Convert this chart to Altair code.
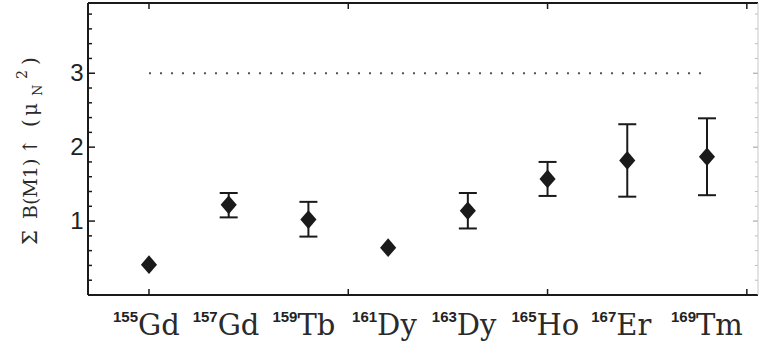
import altair as alt
import pandas as pd

# ---- data ----
mass = [155, 157, 159, 161, 163, 165, 167, 169]
element = ["Gd", "Gd", "Tb", "Dy", "Dy", "Ho", "Er", "Tm"]
b_m1 = [0.41, 1.22, 1.02, 0.64, 1.14, 1.57, 1.82, 1.87]
err_hi = [None, 1.38, 1.26, None, 1.38, 1.80, 2.31, 2.39]
err_lo = [None, 1.05, 0.79, None, 0.90, 1.34, 1.33, 1.35]

limit_value = [3.0]
limit_from = [155]
limit_to = [169]

y_label_values = [1, 2, 3]
y_minor = [0.2, 0.4, 0.6, 0.8, 1.2, 1.4, 1.6, 1.8, 2.2, 2.4, 2.6, 2.8,
           3.2, 3.4, 3.6, 3.8]
y_major = [1, 2, 3]
x_major = [155, 160, 165, 170]

# y-axis title, split into its typographic pieces
title_parts = ["Σ", "B(M1)", "↑", "(", "μ", "N", "2", ")"]

# ---- tables ----
df = pd.DataFrame({
    "mass": mass,
    "element": element,
    "sup": [str(m) for m in mass],
    "b": b_m1,
    "hi": err_hi,
    "lo": err_lo,
})
df_err = df.dropna()
df_limit = pd.DataFrame({"x": limit_from, "x2": limit_to, "y": limit_value})
df_yminor = pd.DataFrame({"v": y_minor})
df_ymajor = pd.DataFrame({"v": y_major})
df_xmajor = pd.DataFrame({"v": x_major})
df_one = pd.DataFrame({"a": [0]})

W, H = 670, 292
xs = alt.Scale(domain=[153.47, 170.28], nice=False, zero=False)
ys = alt.Scale(domain=[0, 3.95], nice=False, zero=False)

yaxis = alt.Axis(
    values=y_label_values, format="d", grid=False, ticks=False, domain=False,
    labelFont="Liberation Sans", labelFontSize=24, labelColor="#222",
    labelPadding=5, title=None,
)


def xe(field):
    return alt.X(field, scale=xs, axis=None)


def ye(field):
    return alt.Y(field, scale=ys, axis=yaxis)


ink = "#1a1a1a"

points = alt.Chart(df).mark_point(
    shape="M0,-1.1L0.95,0L0,1.1L-0.95,0Z", filled=True, size=289,
    color=ink, opacity=1,
).encode(x=xe("mass:Q"), y=ye("b:Q"))

err_rule = alt.Chart(df_err).mark_rule(strokeWidth=2, color=ink).encode(
    x=xe("mass:Q"), y=ye("lo:Q"), y2="hi:Q")
cap_hi = alt.Chart(df_err).mark_tick(
    orient="horizontal", size=18, thickness=2, color=ink, opacity=1
).encode(x=xe("mass:Q"), y=ye("hi:Q"))
cap_lo = alt.Chart(df_err).mark_tick(
    orient="horizontal", size=18, thickness=2, color=ink, opacity=1
).encode(x=xe("mass:Q"), y=ye("lo:Q"))

limit = alt.Chart(df_limit).mark_rule(
    strokeDash=[2, 9], strokeWidth=2, color="#555"
).encode(x=xe("x:Q"), x2="x2:Q", y=ye("y:Q"))

# frame
frame_left = alt.Chart(df_one).mark_rule(strokeWidth=2, color=ink).encode(
    x=alt.value(0), y=alt.value(0), y2=alt.value(H))
frame_bottom = alt.Chart(df_one).mark_rule(strokeWidth=2, color=ink).encode(
    x=alt.value(0), x2=alt.value(W), y=alt.value(H))
frame_top = alt.Chart(df_one).mark_rule(strokeWidth=2, color=ink).encode(
    x=alt.value(0), x2=alt.value(W), y=alt.value(0))
frame_right = alt.Chart(df_one).mark_rule(strokeWidth=1, color="#c8c8c8").encode(
    x=alt.value(W), y=alt.value(0), y2=alt.value(H))

# inside ticks
tick_style = dict(strokeWidth=1.5, color=ink)
yminor_l = alt.Chart(df_yminor).mark_rule(**tick_style).encode(
    y=ye("v:Q"), x=alt.value(0), x2=alt.value(4))
ymajor_l = alt.Chart(df_ymajor).mark_rule(**tick_style).encode(
    y=ye("v:Q"), x=alt.value(0), x2=alt.value(7))
yminor_r = alt.Chart(df_yminor).mark_rule(strokeWidth=1, color="#bbb").encode(
    y=ye("v:Q"), x=alt.value(W), x2=alt.value(W - 3))
ymajor_r = alt.Chart(df_ymajor).mark_rule(strokeWidth=1, color="#999").encode(
    y=ye("v:Q"), x=alt.value(W), x2=alt.value(W - 5))
xmajor_b = alt.Chart(df_xmajor).mark_rule(**tick_style).encode(
    x=xe("v:Q"), y=alt.value(H), y2=alt.value(H - 6))
xmajor_t = alt.Chart(df_xmajor).mark_rule(**tick_style).encode(
    x=xe("v:Q"), y=alt.value(0), y2=alt.value(6))

# isotope labels
elem_text = alt.Chart(df).mark_text(
    align="left", baseline="alphabetic", dx=-11, font="DejaVu Serif",
    fontSize=29, color="#2a2a2a",
).encode(x=xe("mass:Q"), y=alt.value(H + 40), text="element:N")
sup_text = alt.Chart(df).mark_text(
    align="right", baseline="alphabetic", dx=-11, font="Liberation Sans",
    fontWeight="bold", fontSize=15, color="#222",
).encode(x=xe("mass:Q"), y=alt.value(H + 26.7), text="sup:N")


# rotated y-axis title pieces (reading bottom to top, baseline at x=-51)
def title_piece(txt, y_start, size, shift=0):
    return alt.Chart(df_one).mark_text(
        text=txt, angle=270, align="left", baseline="alphabetic",
        font="DejaVu Serif", fontSize=size, color="#2a2a2a",
    ).encode(x=alt.value(-51 + shift), y=alt.value(y_start - 3))


ytitle = [
    title_piece(title_parts[0], 245, 21),
    title_piece(title_parts[1], 219, 19),
    title_piece(title_parts[2], 155, 20),
    title_piece(title_parts[3], 127, 20),
    title_piece(title_parts[4], 116, 20),
    title_piece(title_parts[5], 96, 13, 5),
    title_piece(title_parts[6], 79, 14, -10),
    title_piece(title_parts[7], 65, 20),
]

chart = alt.layer(
    limit, err_rule, cap_hi, cap_lo, points,
    yminor_l, ymajor_l, yminor_r, ymajor_r, xmajor_b, xmajor_t,
    frame_left, frame_bottom, frame_top, frame_right,
    elem_text, sup_text, *ytitle,
).properties(
    width=W, height=H,
    padding={"left": 88, "top": 3, "right": 2, "bottom": 57},
    autosize=alt.AutoSizeParams(type="none"),
    background="white",
).configure_view(stroke=None)

chart.save("out.html", embed_options={"renderer": "svg", "actions": False})
